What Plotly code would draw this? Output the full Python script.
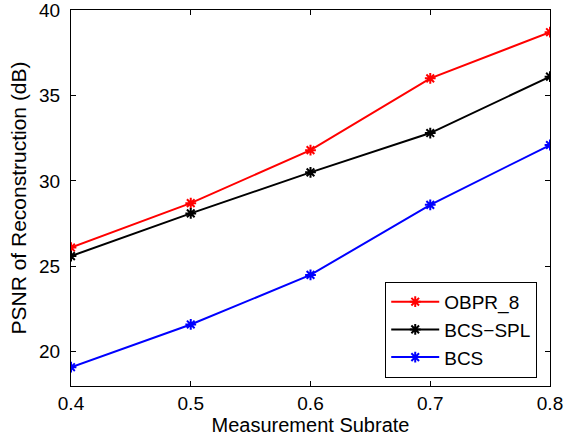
import plotly.graph_objects as go

subrate = [0.4, 0.5, 0.6, 0.7, 0.8]
obpr_8 = [26.1, 28.7, 31.8, 36.0, 38.7]
bcs_spl = [25.6, 28.1, 30.5, 32.8, 36.1]
bcs = [19.1, 21.6, 24.5, 28.6, 32.1]

series = [("OBPR_8", obpr_8, "#ff0000"),
          ("BCS\u2212SPL", bcs_spl, "#000000"),
          ("BCS", bcs, "#0000ff")]

font = "Liberation Sans, Arial, sans-serif"

fig = go.Figure()
for name, vals, col in series:
    fig.add_trace(go.Scatter(
        x=subrate, y=vals, name=name, mode="lines+markers",
        line=dict(color=col, width=2),
        marker=dict(symbol="asterisk-open", size=9, color=col,
                    line=dict(color=col, width=2)),
    ))

axis_common = dict(
    showgrid=False, zeroline=False, showline=True, mirror="ticks",
    linecolor="black", linewidth=1, ticks="inside", ticklen=5,
    tickcolor="black", automargin=False, ticklabeloverflow="allow",
    tickfont=dict(family=font, size=19, color="black"),
)

fig.update_layout(
    width=578, height=441,
    margin=dict(l=71, r=28, t=10, b=55),
    paper_bgcolor="white", plot_bgcolor="white",
    font=dict(family=font, color="black"),
    xaxis=dict(range=[0.4, 0.8], tickvals=[0.4, 0.5, 0.6, 0.7, 0.8],
               ticktext=["0.4", "0.5", "0.6", "0.7", "0.8"], ticklabelstandoff=0,
               title=dict(text="Measurement Subrate", font=dict(size=20), standoff=0),
               **axis_common),
    yaxis=dict(range=[18, 40], tickvals=[20, 25, 30, 35, 40], ticklabelstandoff=6,
               title=dict(text="PSNR of Reconstruction (dB)", font=dict(size=21), standoff=6),
               **axis_common),
    legend=dict(x=0.656, y=0.277, xanchor="left", yanchor="top",
                bordercolor="black", borderwidth=1, bgcolor="white",
                font=dict(family=font, size=19, color="black"),
                itemwidth=48, tracegroupgap=0),
    showlegend=True,
)

fig.write_html("out.html", config={"displayModeBar": False},
               post_script="document.body.style.margin='0';")
